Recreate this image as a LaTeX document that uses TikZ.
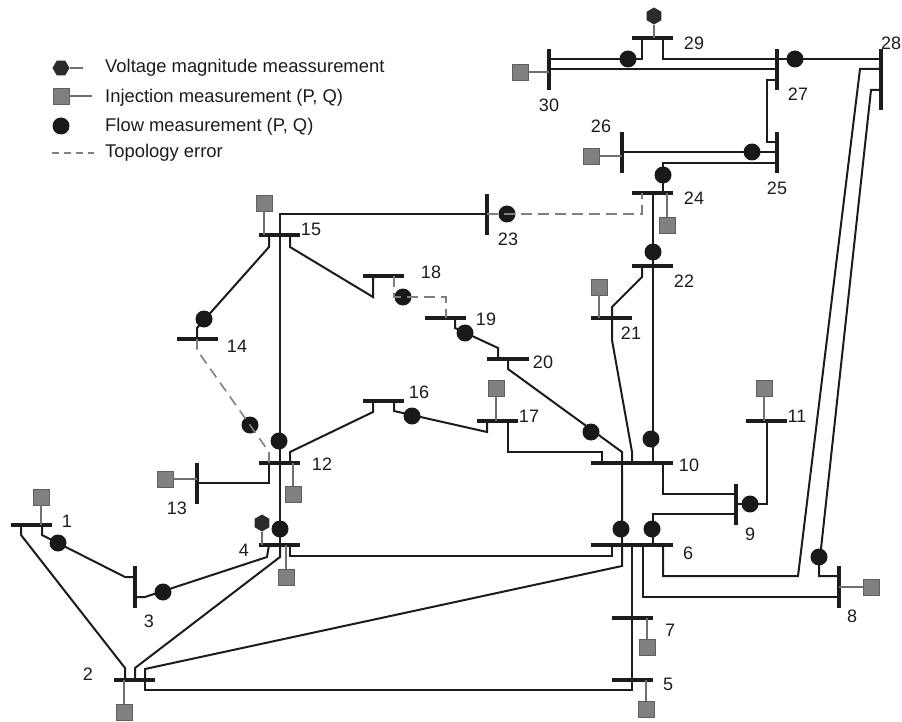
\documentclass[tikz,border=0pt]{standalone}
\usepackage{fontspec}
\setmainfont{Liberation Sans}
\usetikzlibrary{shapes.geometric}
\definecolor{ink}{HTML}{1C1C1C}
\definecolor{sqfill}{HTML}{808080}
\definecolor{sqedge}{HTML}{5F5F5F}
\definecolor{stemc}{HTML}{707070}
\definecolor{dashc}{HTML}{808080}
\tikzset{
  hbus/.style={rectangle,fill=ink,inner sep=0pt,minimum width=41.5pt,minimum height=3.2pt},
  hbusw/.style={hbus,minimum width=82.5pt},
  vbus/.style={rectangle,fill=ink,inner sep=0pt,minimum height=41.5pt,minimum width=3.2pt},
  vbusl/.style={vbus,minimum height=61.5pt},
  wire/.style={draw=ink,line width=2pt,line join=miter},
  stem/.style={draw=stemc,line width=1.3pt},
  err/.style={draw=dashc,line width=1.6pt,dash pattern=on 10.5pt off 6.5pt},
  flow/.style={circle,fill=ink!90!black,inner sep=0pt,minimum size=17pt},
  inj/.style={rectangle,fill=sqfill,draw=sqedge,line width=0.9pt,inner sep=0pt,minimum size=16pt},
  volt/.style={regular polygon,regular polygon sides=6,fill=ink!85!sqfill,inner sep=0pt,minimum size=17pt},
  voltup/.style={volt,shape border rotate=30},
  num/.style={inner sep=0pt,text=ink,font=\fontsize{18}{20}\selectfont},
  legtext/.style={inner sep=0pt,anchor=west,text=ink,font=\fontsize{18.4}{20}\selectfont}
}
\begin{document}
\begin{tikzpicture}[x=1pt,y=-1pt]
\useasboundingbox (0,0) rectangle (902,722);
% buses
\node[hbus] (b1) at (31.5,525) {};
\node[hbus] (b2) at (134.5,680) {};
\node[vbus] (b3) at (135,587) {};
\node[hbus] (b4) at (279.5,545) {};
\node[hbus] (b5) at (632.5,680) {};
\node[hbusw] (b6) at (632,545) {};
\node[hbus] (b7) at (632.5,618) {};
\node[vbus] (b8) at (839,587) {};
\node[vbus] (b9) at (736,504.5) {};
\node[hbusw] (b10) at (632,463) {};
\node[hbus] (b11) at (766.5,421) {};
\node[hbus] (b12) at (279.5,463) {};
\node[vbus] (b13) at (197,483.5) {};
\node[hbus] (b14) at (197.5,339) {};
\node[hbus] (b15) at (279.5,235) {};
\node[hbus] (b16) at (383.5,401) {};
\node[hbus] (b17) at (497.5,421) {};
\node[hbus] (b18) at (383.5,276) {};
\node[hbus] (b19) at (445.5,318) {};
\node[hbus] (b20) at (508,359) {};
\node[hbus] (b21) at (611.5,318) {};
\node[hbus] (b22) at (652.5,266) {};
\node[vbus] (b23) at (487,214.5) {};
\node[hbus] (b24) at (652.5,193) {};
\node[vbus] (b25) at (777,152.5) {};
\node[vbus] (b26) at (622,152.5) {};
\node[vbus] (b27) at (777,69.5) {};
\node[vbusl] (b28) at (881,79.5) {};
\node[hbus] (b29) at (652.5,38) {};
\node[vbus] (b30) at (549,69.5) {};
% lines
\draw[wire] (21,0 |- b1) -- (21,535) -- (125,668) -- (125,0 |- b2);
\draw[wire] (42,0 |- b1) -- (42,535) -- (125,577) -- (b3 |- 0,577);
\draw[wire] (b3 |- 0,597) -- (145,597) -- (267,557) -- (269,0 |- b4);
\draw[wire] (135,0 |- b2) -- (135,668) -- (280,557) -- (280,0 |- b4);
\draw[wire] (145,0 |- b2) -- (145,669) -- (622,566) -- (622,0 |- b10);
\draw[wire] (145,0 |- b2) -- (145,690) -- (632,690) -- (632,0 |- b6);
\draw[wire] (290,0 |- b4) -- (290,556) -- (612,556) -- (612,0 |- b6);
\draw[wire] (280,0 |- b4) -- (280,214) -- (b23 |- 0,214);
\draw[wire] (269,0 |- b12) -- (269,483) -- (b13 |- 0,483);
\draw[wire] (290,0 |- b12) -- (290,452) -- (373,412) -- (373,0 |- b16);
\draw[wire] (394,0 |- b16) -- (394,411) -- (487,432) -- (487,0 |- b17);
\draw[wire] (508,0 |- b17) -- (508,452) -- (602,452) -- (602,0 |- b10);
\draw[wire] (508,0 |- b20) -- (508,369) -- (622,452) -- (622,0 |- b10);
\draw[wire] (642,0 |- b22) -- (642,277) -- (612,307) -- (612,0 |- b21);
\draw[wire] (612,0 |- b21) -- (612,340) -- (632,452) -- (632,0 |- b10);
\draw[wire] (653,0 |- b24) -- (653,0 |- b10);
\draw[wire] (663,0 |- b24) -- (663,163) -- (b25 |- 0,163);
\draw[wire] (b26 |- 0,152) -- (b25 |- 0,152);
\draw[wire] (b25 |- 0,142) -- (767,142) -- (767,80) -- (b27 |- 0,80);
\draw[wire] (b27 |- 0,59) -- (b28 |- 0,59);
\draw[wire] (663,0 |- b29) -- (663,59) -- (b27 |- 0,59);
\draw[wire] (b30 |- 0,59) -- (642,59) -- (642,0 |- b29);
\draw[wire] (b30 |- 0,69) -- (b27 |- 0,69);
\draw[wire] (b28 |- 0,69) -- (860,69) -- (798,576) -- (663,576) -- (663,0 |- b6);
\draw[wire] (b28 |- 0,90) -- (871,90) -- (819,567) -- (819,576) -- (b8 |- 0,576);
\draw[wire] (643,0 |- b6) -- (643,597) -- (b8 |- 0,597);
\draw[wire] (653,0 |- b6) -- (653,514) -- (b9 |- 0,514);
\draw[wire] (663,0 |- b10) -- (663,494) -- (b9 |- 0,494);
\draw[wire] (b9 |- 0,504) -- (767,504) -- (767,0 |- b11);
\draw[wire] (197,0 |- b14) -- (197,328) -- (269,247) -- (269,0 |- b15);
\draw[wire] (290,0 |- b15) -- (290,247) -- (373,297) -- (373,0 |- b18);
\draw[wire] (455,0 |- b19) -- (455,328) -- (498,348) -- (498,0 |- b20);
% flow measurements
\node[flow] (f1) at (58,543) {};
\node[flow] (f2) at (163,592) {};
\node[flow] (f3) at (280,529) {};
\node[flow] (f4) at (279,441) {};
\node[flow] (f5) at (250,425) {};
\node[flow] (f6) at (204,319) {};
\node[flow] (f7) at (412,416) {};
\node[flow] (f8) at (403,297) {};
\node[flow] (f9) at (465,333) {};
\node[flow] (f10) at (591,432) {};
\node[flow] (f11) at (651,439) {};
\node[flow] (f12) at (621,529) {};
\node[flow] (f13) at (652,529) {};
\node[flow] (f14) at (750,504) {};
\node[flow] (f15) at (819,557) {};
\node[flow] (f16) at (653,252) {};
\node[flow] (f17) at (663,175) {};
\node[flow] (f18) at (507,214) {};
\node[flow] (f19) at (752,152) {};
\node[flow] (f20) at (795,59) {};
\node[flow] (f21) at (628,59) {};
% topology errors
\draw[err] (197,0 |- b14) -- (197,350) -- (269,452) -- (269,0 |- b12);
\draw[err] (394,0 |- b18) -- (394,297) -- (446,297) -- (446,0 |- b19);
\draw[err] (b23 |- 0,214) -- (642,214) -- (642,0 |- b24);
% injection measurements
\node[inj] (s1) at (41,497) {};
\node[inj] (s2) at (124,712) {};
\node[inj] (s4) at (286,577) {};
\node[inj] (s5) at (646,709) {};
\node[inj] (s7) at (647,647) {};
\node[inj] (s8) at (871,587) {};
\node[inj] (s11) at (764,388) {};
\node[inj] (s12) at (293,494) {};
\node[inj] (s13) at (165,479) {};
\node[inj] (s15) at (264,203) {};
\node[inj] (s17) at (496,388) {};
\node[inj] (s21) at (599,287) {};
\node[inj] (s24) at (667,225) {};
\node[inj] (s26) at (591,156) {};
\node[inj] (s30) at (520,72) {};
\draw[stem] (s1.south) -- (s1.south |- b1);
\draw[stem] (s2.north) -- (s2.north |- b2);
\draw[stem] (s4.north) -- (s4.north |- b4);
\draw[stem] (s5.north) -- (s5.north |- b5);
\draw[stem] (s7.north) -- (s7.north |- b7);
\draw[stem] (s8.west) -- (b8 |- s8.west);
\draw[stem] (s11.south) -- (s11.south |- b11);
\draw[stem] (s12.north) -- (s12.north |- b12);
\draw[stem] (s13.east) -- (b13 |- s13.east);
\draw[stem] (s15.south) -- (s15.south |- b15);
\draw[stem] (s17.south) -- (s17.south |- b17);
\draw[stem] (s21.south) -- (s21.south |- b21);
\draw[stem] (s24.north) -- (s24.north |- b24);
\draw[stem] (s26.east) -- (b26 |- s26.east);
\draw[stem] (s30.east) -- (b30 |- s30.east);
% voltage measurements
\node[voltup] (v29) at (654,16) {};
\node[voltup] (v4) at (262,523) {};
\draw[stem] (v29) -- (v29 |- b29);
\draw[stem] (v4) -- (v4 |- b4);
% bus labels
\node[num] (n1) at (67,521) {1};
\node[num] (n2) at (88,674) {2};
\node[num] (n3) at (149,621) {3};
\node[num] (n4) at (244,550) {4};
\node[num] (n5) at (668,684) {5};
\node[num] (n6) at (688,553) {6};
\node[num] (n7) at (670,630) {7};
\node[num] (n8) at (852,616) {8};
\node[num] (n9) at (750,534) {9};
\node[num] (n10) at (689,465) {10};
\node[num] (n11) at (797,416) {11};
\node[num] (n12) at (322,464) {12};
\node[num] (n13) at (177,508) {13};
\node[num] (n14) at (237,346) {14};
\node[num] (n15) at (311,229) {15};
\node[num] (n16) at (419,392) {16};
\node[num] (n17) at (529,416) {17};
\node[num] (n18) at (431,272) {18};
\node[num] (n19) at (486,319) {19};
\node[num] (n20) at (543,362) {20};
\node[num] (n21) at (631,333) {21};
\node[num] (n22) at (684,281) {22};
\node[num] (n23) at (508,239) {23};
\node[num] (n24) at (694,198) {24};
\node[num] (n25) at (777,188) {25};
\node[num] (n26) at (601,126) {26};
\node[num] (n27) at (798,94) {27};
\node[num] (n28) at (891,43) {28};
\node[num] (n29) at (694,43) {29};
\node[num] (n30) at (549,105) {30};
% legend
\node[volt] (lv) at (61,68) {};
\coordinate (lve) at (83,68);
\draw[stem] (lv) -- (lve);
\node[inj] (ls) at (61,96) {};
\coordinate (lse) at (92,96);
\draw[stem] (ls.east) -- (lse);
\node[flow] (lf) at (61,126) {};
\coordinate (lda) at (52,153);
\coordinate (ldb) at (94,153);
\draw[draw=dashc,line width=1.1pt,dash pattern=on 7pt off 5pt] (lda) -- (ldb);
\node[legtext] (tv) at (105,68) {Voltage magnitude meassurement};
\node[legtext] (ts) at (105,98) {Injection measurement (P, Q)};
\node[legtext] (tf) at (105,127) {Flow measurement (P, Q)};
\node[legtext] (td) at (105,153) {Topology error};
\end{tikzpicture}
\end{document}
